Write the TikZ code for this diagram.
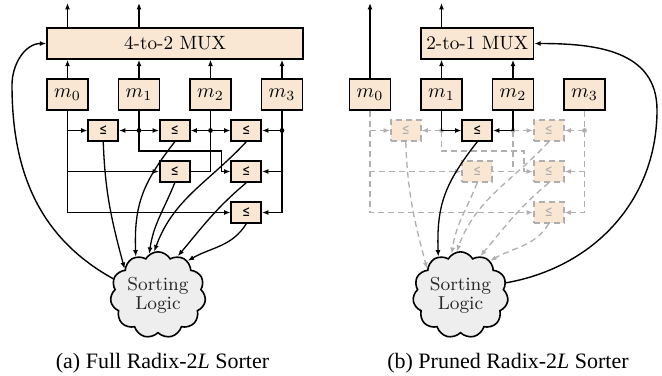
\documentclass[tikz,border=0pt]{standalone}
\usepackage{fontspec}
\usetikzlibrary{arrows.meta,shapes.symbols}
\newfontfamily\capfont{Liberation Serif}
\newfontfamily\symfont{DejaVu Sans}
\definecolor{boxfill}{RGB}{249,231,212}
\definecolor{cloudfill}{RGB}{238,238,238}
\definecolor{pruned}{RGB}{175,175,175}
\newcommand\lesign{\scalebox{0.62}[1]{≤}}

% Comparator network below the four registers.
% #1 = name prefix, #2 = style of the removable part of the network,
% #3 = colour of its junction dots
\newcommand\cmpnet[3]{%
  \node[cmp,#2] (#1c01) at (103.25,-130.5) {\lesign};
  \node[cmp]    (#1c12) at (174.75,-130.5) {\lesign};
  \node[cmp,#2] (#1c23) at (246.25,-130.5) {\lesign};
  \node[cmp,#2] (#1c02) at (174.75,-171.5) {\lesign};
  \node[cmp,#2] (#1c13) at (246.25,-171.5) {\lesign};
  \node[cmp,#2] (#1c03) at (246.25,-212.5) {\lesign};
  \node[sorter] (#1sl) at (158,-295) {Sorting\\Logic};
  \coordinate (#1k) at (221.5,-151);
  % register fan-out
  \draw[wire,#2,->] (#1m0.south) |- (#1c03.west);
  \draw[wire,#2,->] (#1m0.south) |- (#1c02.west);
  \draw[wire,#2,->] (#1m0.south) |- (#1c01.west);
  \draw[wire,#2,->] (#1m1.south) |- (#1k) |- (#1c13.west);
  \draw[wire,#2,->] (#1m1.south) |- (#1c01.east);
  \draw[wire,#2] (#1m2.south) |- (#1c02.east);
  \draw[wire,#2,->] (#1m2.south) |- (#1c23.west);
  \draw[wire,#2,->] (#1m3.south) |- (#1c03.east);
  \draw[wire,#2,->] (#1m3.south) |- (#1c13.east);
  \draw[wire,#2,->] (#1m3.south) |- (#1c23.east);
  \node[dot,fill=#3] (#1d1) at (#1m1.south |- #1c01.east) {};
  \node[dot,fill=#3] (#1d2) at (#1m2.south |- #1c23.west) {};
  \node[dot,fill=#3] (#1d3) at (#1m3.south |- #1c23.east) {};
  % comparator results into the sorting logic
  \draw[curve,#2,->] (#1c01.south) to[out=-88,in=105] (#1sl.142);
  \draw[curve,#2,->] (#1c02.south) to[out=-112,in=82] (#1sl.102);
  \draw[curve,#2,->] (#1c23.south) to[out=-133,in=70] (#1sl.95);
  \draw[curve,#2,->] (#1c13.south) to[out=-140,in=50] (#1sl.63);
  \draw[curve,#2,->] (#1c03.south) to[out=-122,in=30] (#1sl.49);
  % the comparator that is always kept
  \draw[wire,->] (#1m1.south) |- (#1c12.west);
  \draw[wire,->] (#1m2.south) |- (#1c12.east);
  \draw[curve,->] (#1c12.south) to[out=-128,in=92,looseness=1.1] (#1sl.120);
}

\begin{document}
\begin{tikzpicture}[x=0.5pt,y=0.5pt,
  >={Latex[length=3.2pt,width=2.5pt]},
  box/.style={draw,line width=0.8pt,fill=boxfill,inner sep=0pt,
    font=\fontsize{9.6}{11}\selectfont},
  mbox/.style={box,minimum width=20.5pt,minimum height=15.5pt},
  cmp/.style={box,minimum width=15pt,minimum height=10.5pt,
    font=\symfont\fontsize{7.5}{8}\selectfont},
  sorter/.style={cloud,cloud puffs=11,cloud puff arc=120,aspect=1.15,
    draw,line width=0.8pt,fill=cloudfill,minimum width=46pt,
    minimum height=38pt,inner sep=0pt,align=center,text=black!85,
    font=\fontsize{9.4}{7.6}\selectfont},
  wire/.style={line width=0.6pt},
  curve/.style={line width=0.65pt},
  loop/.style={line width=0.7pt},
  dot/.style={circle,draw=none,inner sep=0pt,minimum size=2.4pt},
  live/.style={},
  cut/.style={draw=pruned,dash pattern=on 3pt off 2pt,text=pruned},
  caption/.style={font=\capfont\fontsize{11}{13}\selectfont,anchor=base},
]
\useasboundingbox (0,0) rectangle (662,-375);

% ---------------- (a) full sorter ----------------
\node[box,minimum width=128pt,minimum height=15.5pt] (amux) at (175,-43.5) {4-to-2 MUX};
\node[mbox] (am0) at (67.5,-94.5) {$m_0$};
\node[mbox] (am1) at (139,-94.5) {$m_1$};
\node[mbox] (am2) at (210.5,-94.5) {$m_2$};
\node[mbox] (am3) at (282,-94.5) {$m_3$};
\coordinate (ao0) at (67.5,-3);
\coordinate (ao1) at (139,-3);
\draw[wire,->] (ao0 |- amux.north) -- (ao0);
\draw[wire,->] (ao1 |- amux.north) -- (ao1);
\foreach \i in {0,...,3}
  \draw[wire,->] (am\i.north) -- (am\i.north |- amux.south);
\cmpnet{a}{live}{black}
\coordinate (alb) at (12,-85);
\draw[loop,->] (asl.160) to[out=151,in=-90] (alb) to[out=90,in=180] (amux.west);
\node[caption] (acap) at (162.5,-368) {(a) Full Radix-2\textit{L} Sorter};

% ---------------- (b) pruned sorter ----------------
\begin{scope}[xshift=151.25pt]
\node[box,minimum width=56.25pt,minimum height=15.5pt] (bmux) at (174.75,-43.5) {2-to-1 MUX};
\node[mbox] (bm0) at (67.5,-94.5) {$m_0$};
\node[mbox] (bm1) at (139,-94.5) {$m_1$};
\node[mbox] (bm2) at (210.5,-94.5) {$m_2$};
\node[mbox] (bm3) at (282,-94.5) {$m_3$};
\coordinate (bo0) at (67.5,-3);
\coordinate (bo1) at (139,-3);
\draw[wire,->] (bm0.north) -- (bo0);
\draw[wire,->] (bo1 |- bmux.north) -- (bo1);
\draw[wire,->] (bm1.north) -- (bm1.north |- bmux.south);
\draw[wire,->] (bm2.north) -- (bm2.north |- bmux.south);
\cmpnet{b}{cut}{pruned}
\coordinate (brb) at (354.5,-110);
\draw[loop,->] (bsl.15) to[out=10,in=-90] (brb) to[out=90,in=0,looseness=1.1] (bmux.east);
\node[caption] (bcap) at (205.5,-368) {(b) Pruned Radix-2\textit{L} Sorter};
\end{scope}
\end{tikzpicture}
\end{document}
